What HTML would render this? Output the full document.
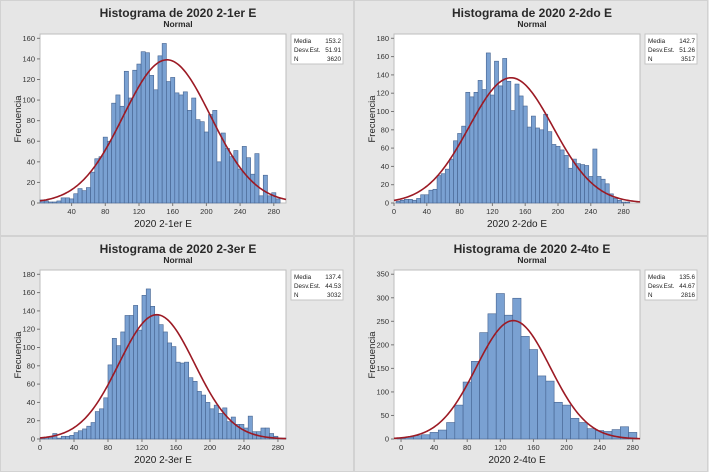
<!DOCTYPE html>
<html><head><meta charset="utf-8"><style>
body{margin:0;background:#e6e6e6;font-family:"Liberation Sans",sans-serif}
svg{display:block}
</style></head><body>
<svg id="c" width="709" height="472" xmlns="http://www.w3.org/2000/svg"></svg>
<script>
const titles=["Histograma de 2020 2-1er E","Histograma de 2020 2-2do E","Histograma de 2020 2-3er E","Histograma de 2020 2-4to E"];
const xLabels=["2020 2-1er E","2020 2-2do E","2020 2-3er E","2020 2-4to E"];
const means=[153.2,142.7,137.4,135.6];
const sds=[51.91,51.26,44.53,44.67];
const ns=[3620,3517,3032,2816];
const binWidths=[5,5,5,10];
const binStarts=[5,5,2.5,0];
const counts1=[3,2,1,1,2,5,5,4,9,14,12,15,30,43,45,64,60,97,105,94,128,102,129,135,147,146,124,110,143,155,118,122,107,105,108,90,102,81,79,69,86,90,40,68,53,45,51,33,55,44,28,48,7,27,7,10,4];
const counts2=[2,3,4,4,3,5,9,9,14,15,30,32,37,48,68,76,84,121,116,121,134,124,164,118,155,128,158,133,101,130,117,106,83,95,82,80,97,78,64,62,58,52,38,48,43,42,41,29,59,29,26,21,10,5,3,1,1];
const counts3=[1,2,2,6,1,3,3,4,7,9,11,14,18,30,33,45,81,110,102,117,135,135,146,119,157,164,145,136,125,117,105,101,84,83,84,67,63,52,48,40,33,37,28,34,19,24,16,16,12,25,8,8,12,12,6,3,1,1];
const counts4=[2,4,7,9,14,19,35,72,121,165,226,266,309,263,299,218,190,134,123,78,72,44,35,22,18,16,20,26,14];
const xTicks1=[40,80,120,160,200,240,280];
const xTicks2=[0,40,80,120,160,200,240,280];
const yTicks1=[0,20,40,60,80,100,120,140,160];
const yTicks2=[0,20,40,60,80,100,120,140,160,180];
const yTicks4=[0,50,100,150,200,250,300,350];
const allCounts=[counts1,counts2,counts3,counts4];
const allXTicks=[xTicks1,xTicks2,xTicks2,xTicks2];
const allYTicks=[yTicks1,yTicks2,yTicks2,yTicks4];
const xDomains=[[2.5,294.5],[0,300],[0,289.5],[-8.5,288.8]];
const yMaxes=[164.2,184.7,184.7,359];

const NS="http://www.w3.org/2000/svg";
const svg=document.getElementById('c');
function el(tag,attrs,parent,text){const e=document.createElementNS(NS,tag);for(const k in attrs)e.setAttribute(k,attrs[k]);if(text!==undefined)e.textContent=text;(parent||svg).appendChild(e);return e;}
const offs=[[0,0],[354,0],[0,236],[354,236]];
for(let p=0;p<4;p++){
  const [ox,oy]=offs[p];
  const g=el('g',{transform:`translate(${ox},${oy})`});
  
  
  const bg=el('rect',{x:0.5,y:0.5,width:353,height:235,fill:'#e6e6e6',stroke:'#d2d2d2'},g);
  
  
  const L=40,R=286,T=34,B=203;
  const [x0,x1]=xDomains[p];const yM=yMaxes[p];
  const sx=v=>L+(v-x0)/(x1-x0)*(R-L);
  const sy=v=>B-v/yM*(B-T);
  const t=el('text',{x:178,y:17,'text-anchor':'middle','font-size':'12','font-weight':'bold',fill:'#2a2a2a'},g,titles[p]);
  
  
  const st=el('text',{x:178,y:27,'text-anchor':'middle','font-size':'8.5','font-weight':'bold',fill:'#2a2a2a'},g,'Normal');
  
  
  const pa=el('rect',{x:L,y:T,width:R-L,height:B-T,fill:'#fff',stroke:'#bdbdbd'},g);
  
  
  const bw=binWidths[p];
  allCounts[p].forEach((c,i)=>{
    const a=binStarts[p]+i*bw-bw/2,b=a+bw;
    const xa=Math.max(sx(a),L),xb=Math.min(sx(b),R);
    if(xb<=xa)return;
    const r=el('rect',{x:xa,y:sy(c),width:xb-xa,height:B-sy(c),fill:'#7aa1d2',stroke:'#44628f','stroke-width':'0.6'},g);
    
    
  });
  const m=means[p],s=sds[p],n=ns[p];
  let d='';
  for(let k=0;k<=200;k++){const v=x0+(x1-x0)*k/200;const y=n*bw/(s*Math.sqrt(2*Math.PI))*Math.exp(-0.5*((v-m)/s)**2);d+=(k?'L':'M')+sx(v).toFixed(2)+','+sy(y).toFixed(2);}
  const cv=el('path',{d:d,fill:'none',stroke:'#9c1a24','stroke-width':'1.6'},g);
  
  
  allXTicks[p].forEach(v=>{
    el('line',{x1:sx(v),x2:sx(v),y1:B,y2:B+3,stroke:'#777'},g);
    const tx=el('text',{x:sx(v),y:B+11,'text-anchor':'middle','font-size':'7.5',fill:'#333'},g,v);
    
    
  });
  allYTicks[p].forEach(v=>{
    el('line',{x1:L-3,x2:L,y1:sy(v),y2:sy(v),stroke:'#777'},g);
    const ty=el('text',{x:L-5,y:sy(v)+2.5,'text-anchor':'end','font-size':'7.5',fill:'#333'},g,v);
    
    
  });
  const xl=el('text',{x:163,y:227,'text-anchor':'middle','font-size':'10',fill:'#222'},g,xLabels[p]);
  
  
  const yl=el('text',{x:0,y:0,transform:'translate(21,119) rotate(-90)','text-anchor':'middle','font-size':'9.5',fill:'#222'},g,'Frecuencia');
  
  
  const lg=el('g',{},g);
  
  
  el('rect',{x:291,y:34,width:52,height:30,fill:'#fff',stroke:'#c4c4c4'},lg);
  const rows=[['Media',m.toFixed(1)],['Desv.Est.',s.toFixed(2)],['N',String(n)]];
  rows.forEach((r,i)=>{
    el('text',{x:294,y:43+i*9,'font-size':'6.3',fill:'#222'},lg,r[0]);
    el('text',{x:341,y:43+i*9,'font-size':'6.3','text-anchor':'end',fill:'#222'},lg,r[1]);
  });
}
</script>
</body></html>
